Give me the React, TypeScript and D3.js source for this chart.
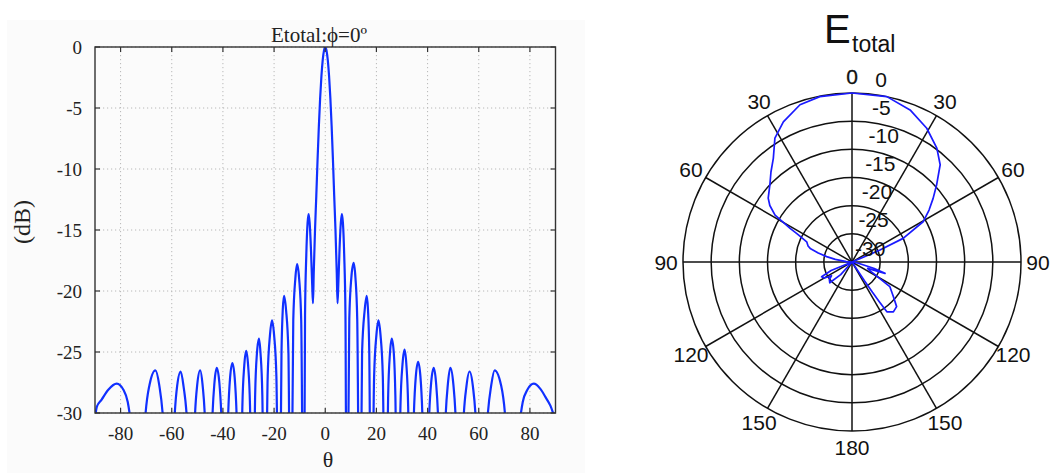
import React from "react";
import * as d3 from "d3";

// ---------- Left chart: Etotal cut, phi = 0 ----------
const patternPoints: [number, number][] = [
  [-90, -30.5], [-89.3, -29.5], [-87.4, -28.9], [-84.8, -28.1], [-81.5, -27.6], [-78.9, -28.1], [-77.2, -29.1], [-76, -30.8], [-74.5, -34], [-73, -45],
  [-70.6, -31.1], [-68.7, -27.7], [-66.4, -26.5], [-64.9, -27.7], [-63.2, -31.1], [-60.8, -45],
  [-59.1, -31.2], [-57.9, -27.8], [-56.5, -26.6], [-55.4, -27.8], [-53.9, -31.2], [-52.5, -45],
  [-51.1, -31.1], [-50.05, -27.7], [-48.9, -26.5], [-47.95, -27.7], [-46.9, -31.1], [-45.5, -45],
  [-44.2, -30.9], [-43.3, -27.5], [-42.4, -26.3], [-41.4, -27.5], [-40.5, -30.9], [-39.2, -45],
  [-38.0, -30.5], [-37.2, -27.1], [-36.3, -25.9], [-35.4, -27.1], [-34.6, -30.5], [-33.4, -45],
  [-32.4, -29.5], [-31.65, -26.1], [-30.9, -24.9], [-30.15, -26.1], [-29.4, -29.5], [-28.4, -45],
  [-27.4, -28.5], [-26.7, -25.1], [-25.9, -23.9], [-25.3, -25.1], [-24.6, -28.5], [-23.6, -45],
  [-22.5, -27.0], [-21.6, -23.6], [-20.8, -22.4], [-20.0, -23.6], [-19.1, -27.0], [-18.0, -45],
  [-17.1, -25.0], [-16.6, -21.5], [-16.1, -20.4], [-15.3, -21.6], [-14.4, -25.0], [-13.5, -45],
  [-12.5, -22.4], [-11.7, -19.0], [-11.0, -17.8], [-10.2, -19.0], [-9.4, -22.4], [-8.4, -45],
  [-7.9, -22], [-7.4, -17], [-6.9, -14.4], [-6.5, -13.7], [-6.1, -14.4], [-5.6, -16.5], [-5.1, -19.5], [-4.8, -21],
  [-4.5, -18.5], [-4.0, -15], [-3.5, -12.2], [-3.0, -9.2], [-2.5, -6.5], [-2.0, -4.2], [-1.5, -2.4], [-1.0, -1.1], [-0.5, -0.3], [0, 0],
  [0.5, -0.3], [1.0, -1.1], [1.5, -2.4], [2.0, -4.2], [2.5, -6.5], [3.0, -9.2], [3.5, -12.2], [4.0, -15], [4.5, -18.5],
  [4.8, -21], [5.1, -19.5], [5.6, -16.5], [6.1, -14.4], [6.5, -13.7], [6.9, -14.4], [7.4, -17], [7.9, -22], [8.4, -45],
  [9.4, -22.3], [10.2, -18.9], [11.1, -17.7], [11.8, -18.9], [12.5, -22.3], [13.5, -45],
  [14.4, -25.0], [15.4, -21.6], [16.2, -20.4], [16.7, -21.5], [17.2, -25.0], [18.0, -45],
  [19.1, -27.0], [20.0, -23.6], [20.8, -22.4], [21.6, -23.6], [22.5, -27.0], [23.6, -45],
  [24.6, -28.5], [25.3, -25.1], [26.0, -23.9], [26.8, -25.1], [27.4, -28.5], [28.4, -45],
  [29.4, -29.4], [30.2, -26.0], [31.0, -24.8], [31.7, -26.0], [32.4, -29.4], [33.4, -45],
  [34.6, -30.4], [35.4, -27.0], [36.3, -25.8], [37.2, -27.0], [38.0, -30.4], [39.2, -45],
  [40.5, -30.9], [41.4, -27.5], [42.4, -26.3], [43.3, -27.5], [44.2, -30.9], [45.5, -45],
  [46.9, -31.1], [47.95, -27.6], [48.9, -26.3], [50.05, -27.6], [51.1, -31.1], [52.5, -45],
  [53.9, -31.2], [55.2, -27.8], [56.4, -26.6], [57.7, -27.8], [59.0, -31.2], [60.8, -45],
  [63.2, -31.1], [64.9, -27.7], [66.2, -26.5], [68.7, -27.7], [70.6, -31.1], [73, -45],
  [74.5, -34], [76, -30.8], [77.2, -29.1], [79, -28.1], [81.5, -27.6], [84, -28.0], [86.1, -28.7], [88, -29.4], [90, -30.6],
];
const xTicks = [-80, -60, -40, -20, 0, 20, 40, 60, 80];
const yTicks = [0, -5, -10, -15, -20, -25, -30];

// ---------- Right chart: polar Etotal ----------
const polarAngle = [
  -180, -150, -145, -138, -133, -128, -124, -120, -116, -112, -106, -95, -86, -81, -78, -75, -72, -70, -66, -63, -61.5,
  -58.6, -55.5, -52.7, -46.8, -42, -37.2, -31.9, -26.1, -18.3, -11, 0, 11.9, 20.9, 29.2, 36.7, 42.2, 47.7, 51.9, 56,
  60.5, 65.2, 66.8, 67.5, 72, 95, 100, 106, 109, 112, 116, 118, 123, 130, 135, 140.3, 145, 145.5, 146, 146.5, 148, 180,
];
const polarDb = [
  -30, -30, -30, -27, -24.6, -24.9, -25.6, -24.3, -24.0, -26, -30, -30, -29, -27, -25.4, -23.8, -22.2, -21.7, -21.2, -19.2, -17.5,
  -14.0, -12.3, -11.3, -10.0, -8.5, -6.9, -4.1, -2.3, -0.6, -0.1, 0, 0, -1.1, -2.8, -4.8, -6.7, -9.7, -11.7, -13.5,
  -15.5, -20.0, -24.6, -28.4, -30, -30, -29, -26, -23.8, -27, -26.5, -25.7, -22.0, -20.4, -18.8, -18.5, -19.2, -21.5, -23.5, -26, -30, -30,
];
const ringValues = [0, -5, -10, -15, -20, -25, -30];
const spokeAngles = [0, 30, 60, 90, 120, 150];
const angleLabelAngles = [0, 30, 60, 90, 120, 150, 180, 210, 240, 270, 300, 330];

export default function App() {
  const W = 1051;
  const H = 473;
  const serif = "'Liberation Serif', 'Times New Roman', serif";
  const sans = "'Liberation Sans', Arial, Helvetica, sans-serif";

  // left chart scales
  const x = d3.scaleLinear().domain([-90, 90]).range([95, 555.5]);
  const y = d3.scaleLinear().domain([-30, 0]).range([413, 47]);
  const line = d3
    .line<[number, number]>()
    .x((d) => x(d[0]))
    .y((d) => y(d[1]))
    .curve(d3.curveMonotoneX);
  const x0 = x(-90), x1 = x(90), y0 = y(0), y1 = y(-30);
  const tickLen = 5;

  // polar
  const cx = 852, cy = 262;
  const r = d3.scaleLinear().domain([-30, 0]).range([0, 169]).clamp(true);
  const R = r(0);
  const polarPts: [number, number][] = polarAngle.map((a, i) => [a, polarDb[i]]);
  const radial = d3
    .lineRadial<[number, number]>()
    .angle((d) => (d[0] * Math.PI) / 180)
    .radius((d) => r(d[1]));

  return (
    <svg
      width={W}
      height={H}
      viewBox={`0 0 ${W} ${H}`}
      style={{ position: "absolute", left: 0, top: 0, display: "block", background: "#fff" }}
    >
      <defs>
        <clipPath id="plotClip">
          <rect x={x0} y={y0} width={x1 - x0} height={y1 - y0} />
        </clipPath>
      </defs>
      <rect x={7} y={20} width={578} height={453} fill="#fbfbfb" />

      {/* grid */}
      <g stroke="#b8b8b8" strokeWidth={1} strokeDasharray="1.2,2.8">
        {xTicks.map((t) => (
          <line key={"gx" + t} x1={x(t)} x2={x(t)} y1={y0} y2={y1} />
        ))}
        {yTicks.map((t) => (
          <line key={"gy" + t} x1={x0} x2={x1} y1={y(t)} y2={y(t)} />
        ))}
      </g>

      {/* curve */}
      <path d={line(patternPoints) || ""} fill="none" stroke="#1030ff" strokeWidth={2.2} clipPath="url(#plotClip)" />

      {/* frame & ticks */}
      <rect x={x0} y={y0} width={x1 - x0} height={y1 - y0} fill="none" stroke="#333" strokeWidth={1.4} />
      <g stroke="#333" strokeWidth={1.2}>
        {xTicks.map((t) => (
          <g key={"tx" + t}>
            <line x1={x(t)} x2={x(t)} y1={y1} y2={y1 - tickLen} />
            <line x1={x(t)} x2={x(t)} y1={y0} y2={y0 + tickLen} />
          </g>
        ))}
        {yTicks.map((t) => (
          <g key={"ty" + t}>
            <line x1={x0} x2={x0 + tickLen} y1={y(t)} y2={y(t)} />
            <line x1={x1} x2={x1 - tickLen} y1={y(t)} y2={y(t)} />
          </g>
        ))}
      </g>
      <g fontFamily={serif} fontSize={19} fill="#222">
        {xTicks.map((t) => (
          <text key={"lx" + t} x={x(t)} y={440} textAnchor="middle">
            {String(t)}
          </text>
        ))}
        {yTicks.map((t) => (
          <text key={"ly" + t} x={82} y={y(t)} textAnchor="end" dominantBaseline="central">
            {String(t)}
          </text>
        ))}
      </g>
      <text x={319} y={42} fontFamily={serif} fontSize={21} textAnchor="middle" fill="#222">
        Etotal:ϕ=0º
      </text>
      <text x={328} y={467} fontFamily={serif} fontSize={22} textAnchor="middle" fill="#222">
        θ
      </text>
      <text
        transform="translate(30,222) rotate(-90)"
        fontFamily={serif}
        fontSize={24}
        textAnchor="middle"
        fill="#222"
      >
        (dB)
      </text>

      {/* ---------- polar chart ---------- */}
      <g transform={`translate(${cx},${cy})`}>
        <g fill="none" stroke="#111" strokeWidth={1.5}>
          {ringValues
            .filter((v) => r(v) > 0)
            .map((v) => (
              <circle key={"ring" + v} r={r(v)} />
            ))}
          {spokeAngles.map((a) => {
            const rad = (a * Math.PI) / 180;
            return (
              <line
                key={"sp" + a}
                x1={-R * Math.sin(rad)}
                y1={R * Math.cos(rad)}
                x2={R * Math.sin(rad)}
                y2={-R * Math.cos(rad)}
              />
            );
          })}
        </g>
        <path d={radial(polarPts) || ""} fill="none" stroke="#1a1aff" strokeWidth={1.7} strokeLinejoin="round" />
        <g fontFamily={sans} fontSize={21} fill="#111">
          {ringValues.map((v) => (
            <text key={"rl" + v} x={3 + 0.12 * r(v)} y={-r(v) - 14} dominantBaseline="central">
              {String(v)}
            </text>
          ))}
          {angleLabelAngles.map((a) => {
            const rad = (a * Math.PI) / 180;
            const lbl = a <= 180 ? a : 360 - a;
            return (
              <text
                key={"al" + a}
                x={R * 1.1 * Math.sin(rad)}
                y={-R * 1.1 * Math.cos(rad)}
                textAnchor="middle"
                dominantBaseline="central"
                stroke={a === 0 ? "#111" : "none"}
                strokeWidth={0.3}
              >
                {String(lbl)}
              </text>
            );
          })}
        </g>
      </g>
      <text x={824} y={43} fontFamily={sans} fontSize={40} fill="#111">
        E
      </text>
      <text x={852} y={52} fontFamily={sans} fontSize={23} fill="#111">
        total
      </text>
    </svg>
  );
}
